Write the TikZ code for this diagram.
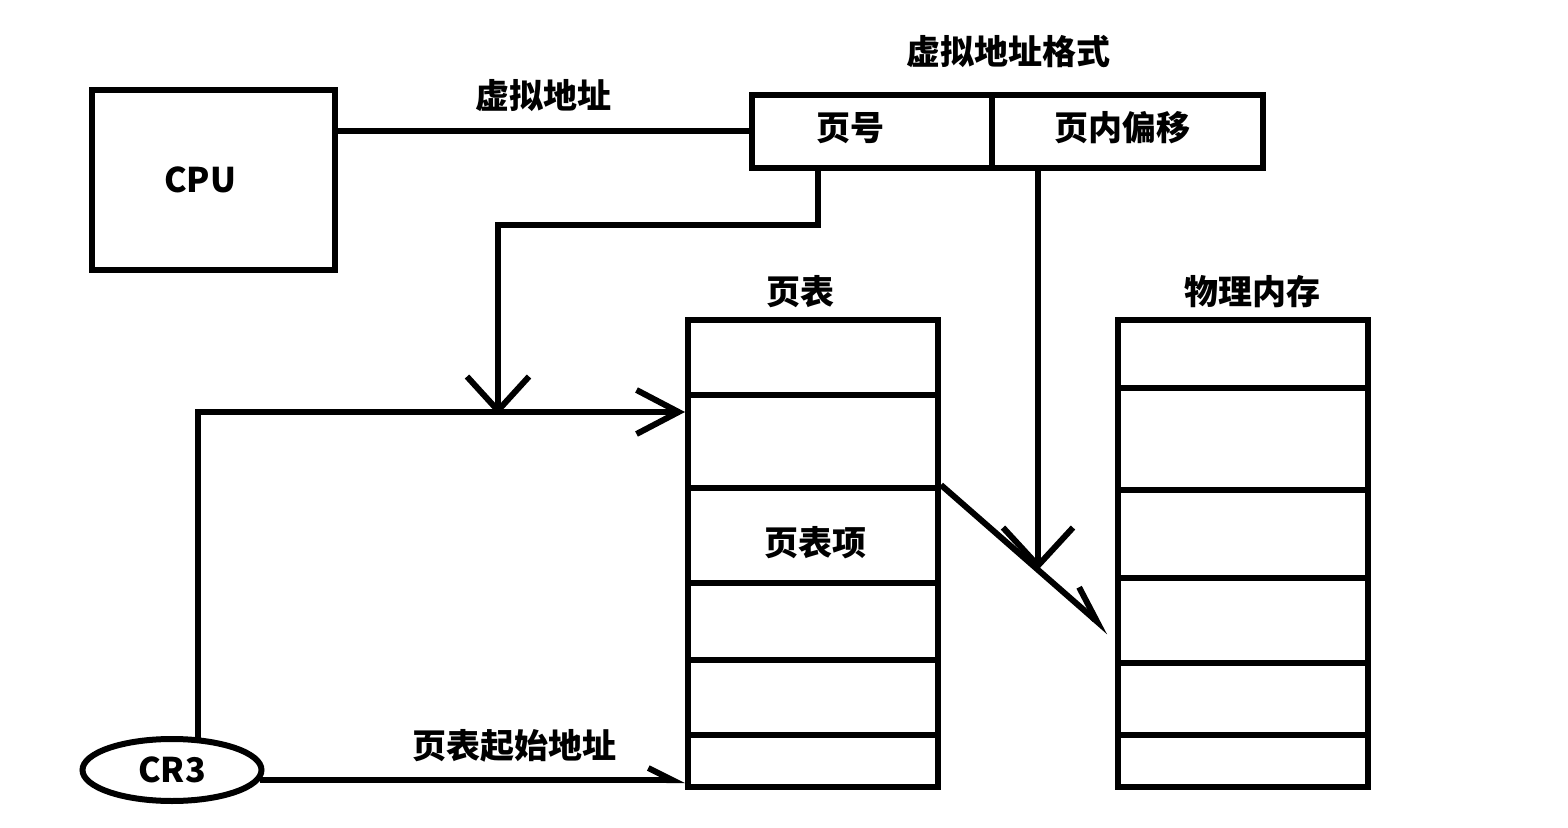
\documentclass[tikz,border=0pt]{standalone}
\usepackage{fontspec}
\setmainfont{Noto Sans CJK SC}
\usetikzlibrary{arrows.meta, shapes.geometric}
\tikzset{
	box/.style={draw, line width=3pt, inner sep=0pt},
	wire/.style={line width=3pt},
}
\begin{document}
\begin{tikzpicture}[x=0.5pt, y=-0.5pt, every node/.style={font=\fontsize{17}{20}\selectfont\bfseries}]
\useasboundingbox (0,0) rectangle (1568,828);
\node[box, minimum width=121.5pt, minimum height=90pt] (cpu) at (213.5,180) {};
\node at (200,180) {CPU};
\node (fmt) at (1008,52) {虚拟地址格式};
\node[box, minimum width=120pt, minimum height=36.5pt] (vpn) at (872,131.5) {};
\node[box, minimum width=135.5pt, minimum height=36.5pt] (off) at (1127.5,131.5) {};
\node at (850,128) {页号};
\node at (1122,128) {页内偏移};
\node[draw, ellipse, line width=3pt, minimum width=89.5pt, minimum height=31pt, inner sep=0pt] (cr3) at (172,770) {CR3};
% tablica stron
\node at (800,292) {页表};
\foreach \a/\b [count=\i] in {320/395, 395/488, 488/583, 583/660, 660/735, 735/787}
	\node[box, minimum width=125pt, minimum height={(\b-\a)*0.5pt}] (pt\i) at (813,{(\a+\b)/2}) {};
\node at (815,543) {页表项};
% pamiec fizyczna
\node at (1252,292) {物理内存};
\foreach \a/\b [count=\i] in {320/388, 388/490, 490/578, 578/663, 663/735, 735/787}
	\node[box, minimum width=125pt, minimum height={(\b-\a)*0.5pt}] (pm\i) at (1243,{(\a+\b)/2}) {};
\coordinate (join) at (498,415);
\coordinate (hit) at (1038,570);
\draw[wire] (vpn.west) -- (vpn.west -| cpu.east) node[midway, above=5pt] {虚拟地址};
\draw[wire, -{Straight Barb[length=17pt, width=31pt]}] ([xshift=-27pt]vpn.south) -- ++(0,54) -| (join);
\draw[wire, -{Straight Barb[length=21pt, width=22pt]}] ([xshift=13pt, yshift=-1pt]cr3.north) |- ([yshift=-10pt]pt2.north west);
\draw[wire, -{Straight Barb[length=12pt, width=12pt, harpoon]}] ([xshift=-2.5pt, yshift=-5pt]cr3.east) -- ([yshift=-5pt]cr3.east -| pt6.west)
	node[pos=0.6, above=4pt] {页表起始地址};
\draw[wire, -{Straight Barb[length=19pt, width=35pt]}] (off.south -| hit) -- (hit);
\draw[wire, -{Straight Barb[length=18pt, width=14pt, harpoon]}] (pt3.north east) -- ([xshift=-3pt, yshift=-5.75pt]pm4.west);
\end{tikzpicture}
\end{document}
